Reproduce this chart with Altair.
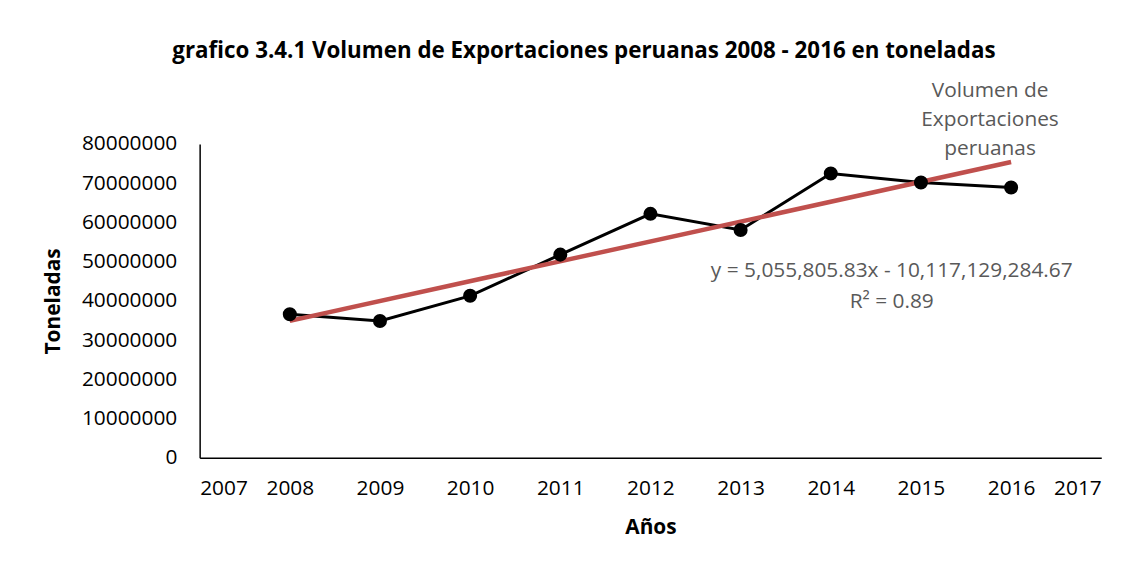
import altair as alt
import pandas as pd

years = [2008, 2009, 2010, 2011, 2012, 2013, 2014, 2015, 2016]
volumes = [36600000, 34900000, 41300000, 51800000, 62200000, 58100000, 72500000, 70200000, 68900000]
y_ticks = [0, 10000000, 20000000, 30000000, 40000000, 50000000, 60000000, 70000000, 80000000]
x_ticks = list(range(2007, 2018))

title_text = "grafico 3.4.1 Volumen de Exportaciones peruanas 2008 - 2016 en toneladas"
series_label = "Volumen de\nExportaciones\nperuanas"
equation = "y = 5,055,805.83x - 10,117,129,284.67"
r2 = "R² = 0.89"

df = pd.DataFrame({"year": years, "value": volumes})

FONT = "Open Sans"
W, H = 908, 316

x = alt.X("year:Q", scale=alt.Scale(domain=[2007, 2017], nice=False, zero=False),
          axis=alt.Axis(values=x_ticks, format="d", title="Años", grid=False, ticks=False,
                        labelOverlap=False, labelPadding=20, titlePadding=18,
                        domainColor="#000000", domainWidth=1.5))
y = alt.Y("value:Q", scale=alt.Scale(domain=[0, 80000000], nice=False),
          axis=alt.Axis(values=y_ticks, format="d", title="Toneladas", grid=False, ticks=False,
                        labelOverlap=False, labelPadding=23, titlePadding=18,
                        domainColor="#000000", domainWidth=1.5))

base = alt.Chart(df)

line = base.mark_line(color="#000000", strokeWidth=3).encode(x=x, y=y)
pts = base.mark_point(filled=True, shape="circle", color="#000000", size=200, opacity=1).encode(x=x, y=y)

trend = base.transform_regression("year", "value", extent=[2008, 2016]).mark_line(
    color="#C0504D", strokeWidth=4.5).encode(x=x, y=y)

eq_text = alt.Chart(pd.DataFrame({"t": [equation]})).mark_text(
    font=FONT, fontSize=21, color="#595959", align="center", baseline="middle").encode(
    text="t:N", x=alt.value(697), y=alt.value(128))
r2_text = alt.Chart(pd.DataFrame({"t": [r2]})).mark_text(
    font=FONT, fontSize=21, color="#595959", align="center", baseline="middle").encode(
    text="t:N", x=alt.value(697), y=alt.value(159))
lab_text = alt.Chart(pd.DataFrame({"t": [series_label]})).mark_text(
    font=FONT, fontSize=21, color="#595959", align="center", baseline="middle",
    lineBreak="\n", lineHeight=29).encode(
    text="t:N", x=alt.value(796), y=alt.value(-53))

chart = alt.layer(line, trend, pts, eq_text, r2_text, lab_text).properties(
    width=W, height=H,
    title=alt.TitleParams(title_text, font=FONT, fontSize=22.5, fontWeight="bold", color="#000000",
                          anchor="middle", frame="group", offset=18, dx=-67),
    autosize=alt.AutoSizeParams(type="none"),
    padding={"left": 193, "top": 135, "right": 38, "bottom": 111},
).configure_axis(
    labelFont=FONT, labelFontSize=21, labelColor="#000000",
    titleFont=FONT, titleFontSize=21, titleFontWeight="bold", titleColor="#000000",
).configure_view(stroke=None)

chart.save("out.html", embed_options={"renderer": "svg", "actions": False})
